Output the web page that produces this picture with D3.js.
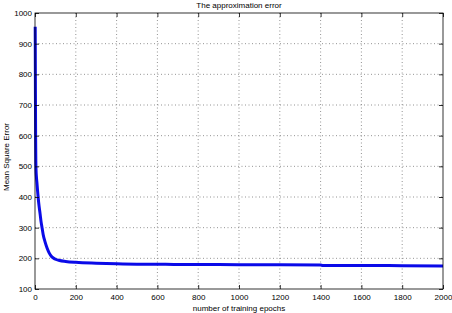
<!DOCTYPE html>
<html><head><meta charset="utf-8">
<script src="https://cdn.jsdelivr.net/npm/d3@7"></script>
<style>body{margin:0;background:#fff}svg{display:block}text{font-family:"Liberation Sans",Arial,sans-serif;font-size:8px;fill:#000}</style>
</head><body><svg id="c" width="452" height="313"></svg>
<script>
const epochs = [1,2,3,4,5,7,9,12,16,20,25,30,35,40,50,60,70,80,90,100,120,150,200,300,400,500,600,680,800,1000,1200,1400,1410,1600,1800,2000];
const mse =    [955,760,600,520,490,465,450,425,395,370,345,318,298,278,252,232,217,207,201,197,193,190,187,184,182,181,181,180,180,179,179,178,177,177,176,175];
const xTicks = [0,200,400,600,800,1000,1200,1400,1600,1800,2000];
const yTicks = [100,200,300,400,500,600,700,800,900,1000];
const title = "The approximation error";
const xLabel = "number of training epochs";
const yLabel = "Mean Square Error";

const svg = d3.select("#c");
const L=35,R=443,T=13,B=289;
const x = d3.scaleLinear().domain([0,2000]).range([L,R]);
const y = d3.scaleLinear().domain([100,1000]).range([B,T]);

// grid
const g = svg.append("g");
g.selectAll(".gx").data(xTicks.slice(1,-1)).join("line")
  .attr("x1",d=>x(d)).attr("x2",d=>x(d)).attr("y1",T).attr("y2",B)
  .attr("stroke","#777").attr("stroke-width",0.8).attr("stroke-dasharray","1,2.5");
g.selectAll(".gy").data(yTicks.slice(1,-1)).join("line")
  .attr("y1",d=>y(d)).attr("y2",d=>y(d)).attr("x1",L).attr("x2",R)
  .attr("stroke","#777").attr("stroke-width",0.8).attr("stroke-dasharray","1,2.5");

// line
svg.append("path").datum(epochs.map((e,i)=>[e,mse[i]]))
  .attr("fill","none").attr("stroke","#0a0ae8").attr("stroke-width",3).attr("stroke-linejoin","round")
  .attr("d",d3.line().x(d=>x(d[0])).y(d=>y(d[1])).curve(d3.curveMonotoneX));

// box
svg.append("rect").attr("x",L).attr("y",T).attr("width",R-L).attr("height",B-T)
  .attr("fill","none").attr("stroke","#000").attr("stroke-width",0.8);

// axes
const xa = svg.append("g").attr("transform",`translate(0,${B})`)
  .call(d3.axisBottom(x).tickValues(xTicks).tickSize(-4).tickPadding(5).tickFormat(d3.format("d")));
const xt = svg.append("g").attr("transform",`translate(0,${T})`)
  .call(d3.axisTop(x).tickValues(xTicks).tickSize(-4).tickFormat(""));
const ya = svg.append("g").attr("transform",`translate(${L},0)`)
  .call(d3.axisLeft(y).tickValues(yTicks).tickSize(-4).tickPadding(3).tickFormat(d3.format("d")));
const yr = svg.append("g").attr("transform",`translate(${R},0)`)
  .call(d3.axisRight(y).tickValues(yTicks).tickSize(-4).tickFormat(""));
[xa,xt,ya,yr].forEach(a=>{a.select(".domain").remove();a.selectAll("line").attr("stroke","#000").attr("stroke-width",0.8);
  a.selectAll("text").attr("font-size",8).attr("font-family","Liberation Sans, Arial, sans-serif").attr("fill","#000");});
xa.selectAll("text").attr("dy","0.71em").attr("y",5);

svg.append("text").attr("x",(L+R)/2).attr("y",8).attr("text-anchor","middle").text(title);
svg.append("text").attr("x",(L+R)/2).attr("y",311).attr("text-anchor","middle").text(xLabel);
svg.append("text").attr("transform","translate(9,157) rotate(-90)").attr("text-anchor","middle").text(yLabel);
</script></body></html>
